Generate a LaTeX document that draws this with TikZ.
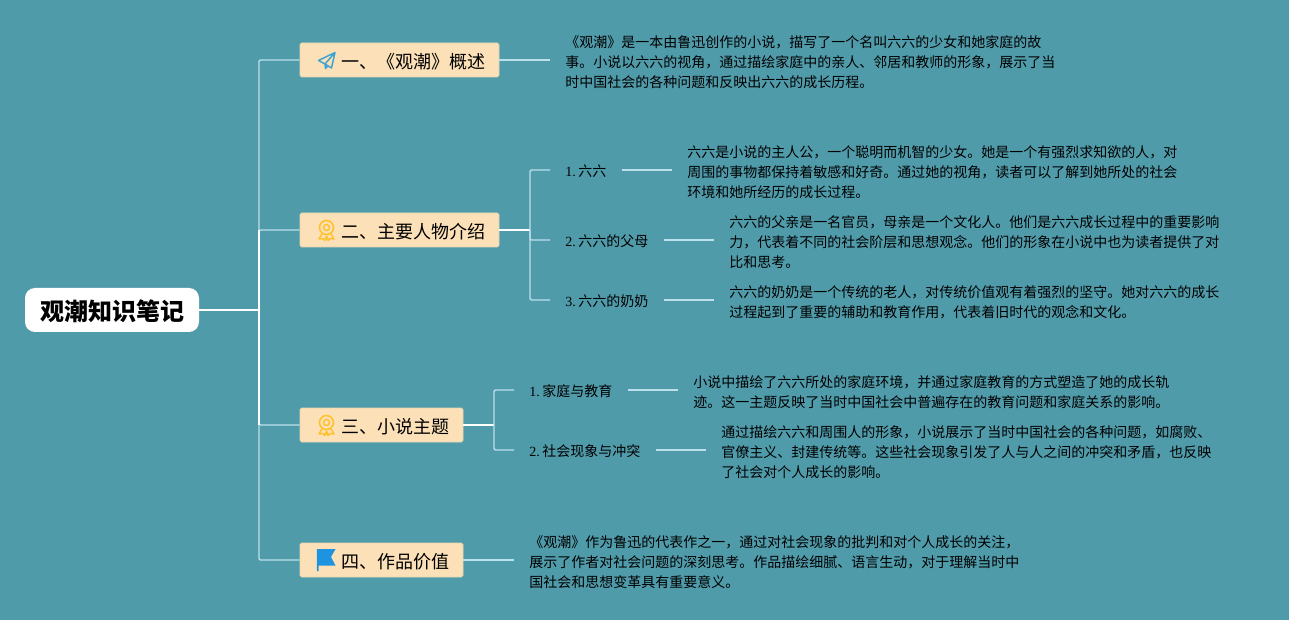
\documentclass[tikz,border=0pt]{standalone}
\usepackage{fontspec}
\setmainfont{Liberation Serif}
\newfontfamily\cjk{Noto Sans CJK SC}
\definecolor{bgc}{HTML}{509BAA}
\definecolor{boxc}{HTML}{FCE1B8}
\definecolor{boxe}{HTML}{E6D6AE}
\definecolor{stem}{HTML}{BCE0EC}
\definecolor{planec}{HTML}{3FA3CF}
\definecolor{medalc}{HTML}{FFC22E}
\definecolor{flagc}{HTML}{1E93E0}
\newcommand{\sublab}[2]{#1\hspace{1.9pt}{\cjk #2}}
\newcommand{\branchtext}[1]{\hspace*{20.25pt}#1}
\tikzset{
  rootbox/.style={fill=white,rounded corners=7.5pt,minimum width=130.5pt,minimum height=33pt,inner sep=0pt,
    text height=17.8pt,text depth=1.8pt,
    font=\fontsize{18}{22}\selectfont\cjk\bfseries,text=black},
  branchbox/.style={fill=boxc,draw=boxe,line width=.5pt,rounded corners=1.2pt,minimum height=25.5pt,inner sep=0pt,
    text height=14.5pt,text depth=1.3pt,
    font=\fontsize{13.5}{16}\selectfont\cjk,text=black},
  sublabel/.style={inner xsep=11.25pt,inner ysep=0pt,anchor=west,text height=11pt,text depth=1.5pt,
    font=\fontsize{10.5}{15}\selectfont,text=black},
  bodytext/.style={inner xsep=11.25pt,inner ysep=0pt,align=left,anchor=west,font=\fontsize{10.5}{15}\selectfont\cjk,text=black},
  link/.style={draw=stem,line width=1pt,rounded corners=1pt},
  strong/.style={draw=white,line width=1.2pt},
  medal/.pic={
    \draw[medalc,line width=1.2pt] (0,-2.5) circle (7);
    \draw[medalc,line width=1.1pt] (0,-2.5) circle (3);
    \draw[medalc,line width=1.1pt,line join=round] (-4,3) -- (-7.5,9) -- (-3.5,8.5) -- (-1.5,10.5) -- (0,6) -- (1.5,10.5) -- (3.5,8.5) -- (7.5,9) -- (4,3);
  }
}
\begin{document}
\begin{tikzpicture}[x=0.75pt,y=-0.75pt]
\fill[bgc] (0,0) rectangle (1289,620);
\useasboundingbox (0,0) rectangle (1289,620);

% root and trunk
\node[rootbox] (root) at (112,310) {观潮知识笔记};
\coordinate (trunk) at (259,310);

% branches
\node[branchbox,minimum width=149.25pt] (b1) at (399.5,60) {\branchtext{一、《观潮》概述}};
\node[branchbox,minimum width=149.25pt] (b2) at (399.5,230) {\branchtext{二、主要人物介绍}};
\node[branchbox,minimum width=122.25pt] (b3) at (381.5,425) {\branchtext{三、小说主题}};
\node[branchbox,minimum width=122.25pt] (b4) at (381.5,560) {\branchtext{四、作品价值}};

% icons
\draw[planec,line width=1.1pt,line join=round] (335,52.5) -- (318.5,60.5) -- (325,64) -- (335,52.5) -- (331.5,68) -- (325,64) -- (325.5,68.5) -- (328,65.8);
\pic at (326.5,230) {medal};
\pic at (326.5,425) {medal};
\fill[flagc] (316.8,549) -- (335.5,549) -- (331,557) -- (335.5,565.5) -- (318.5,565.5) -- (318.5,571) -- (316.8,571) -- cycle;

% text of branch one
\node[bodytext] (t1) at (550,62) {《观潮》是一本由鲁迅创作的小说，描写了一个名叫六六的少女和她家庭的故\\事。小说以六六的视角，通过描绘家庭中的亲人、邻居和教师的形象，展示了当\\时中国社会的各种问题和反映出六六的成长历程。};

% branch two
\coordinate (j2) at (530,230);
\node[sublabel] (s21) at (550,170) {\sublab{1.}{六六}};
\node[sublabel] (s22) at (550,240) {\sublab{2.}{六六的父母}};
\node[sublabel] (s23) at (550,300) {\sublab{3.}{六六的奶奶}};
\node[bodytext] (t21) at (672,172) {六六是小说的主人公，一个聪明而机智的少女。她是一个有强烈求知欲的人，对\\周围的事物都保持着敏感和好奇。通过她的视角，读者可以了解到她所处的社会\\环境和她所经历的成长过程。};
\node[bodytext] (t22) at (714,242) {六六的父亲是一名官员，母亲是一个文化人。他们是六六成长过程中的重要影响\\力，代表着不同的社会阶层和思想观念。他们的形象在小说中也为读者提供了对\\比和思考。};
\node[bodytext] (t23) at (714,302) {六六的奶奶是一个传统的老人，对传统价值观有着强烈的坚守。她对六六的成长\\过程起到了重要的辅助和教育作用，代表着旧时代的观念和文化。};

% branch three
\coordinate (j3) at (494,425);
\node[sublabel] (s31) at (514,390) {\sublab{1.}{家庭与教育}};
\node[sublabel] (s32) at (514,450) {\sublab{2.}{社会现象与冲突}};
\node[bodytext] (t31) at (678,392) {小说中描绘了六六所处的家庭环境，并通过家庭教育的方式塑造了她的成长轨\\迹。这一主题反映了当时中国社会中普遍存在的教育问题和家庭关系的影响。};
\node[bodytext] (t32) at (706,452) {通过描绘六六和周围人的形象，小说展示了当时中国社会的各种问题，如腐败、\\官僚主义、封建传统等。这些社会现象引发了人与人之间的冲突和矛盾，也反映\\了社会对个人成长的影响。};

% branch four
\node[bodytext] (t4) at (514,562) {《观潮》作为鲁迅的代表作之一，通过对社会现象的批判和对个人成长的关注，\\展示了作者对社会问题的深刻思考。作品描绘细腻、语言生动，对于理解当时中\\国社会和思想变革具有重要意义。};

% connectors
\draw[strong] (root.east) -- (trunk);
\draw[link] (trunk) |- (b1.west);
\draw[link] (trunk) |- (b2.west);
\draw[link] (trunk) |- (b3.west);
\draw[link] (trunk) |- (b4.west);
\draw[draw=white,line width=1pt] (b2.west -| trunk) -- (b3.west -| trunk);
\draw[link] (b1.east) -- (t1.west |- b1.east);
\draw[strong] (b2.east) -- (j2);
\draw[link] (j2) |- (s21.west);
\draw[link] (j2) |- (s22.west);
\draw[link] (j2) |- (s23.west);
\draw[link] (s21.east) -- (t21.west |- s21.east);
\draw[link] (s22.east) -- (t22.west |- s22.east);
\draw[link] (s23.east) -- (t23.west |- s23.east);
\draw[strong] (b3.east) -- (j3);
\draw[link] (j3) |- (s31.west);
\draw[link] (j3) |- (s32.west);
\draw[link] (s31.east) -- (t31.west |- s31.east);
\draw[link] (s32.east) -- (t32.west |- s32.east);
\draw[link] (b4.east) -- (t4.west |- b4.east);
\end{tikzpicture}
\end{document}
